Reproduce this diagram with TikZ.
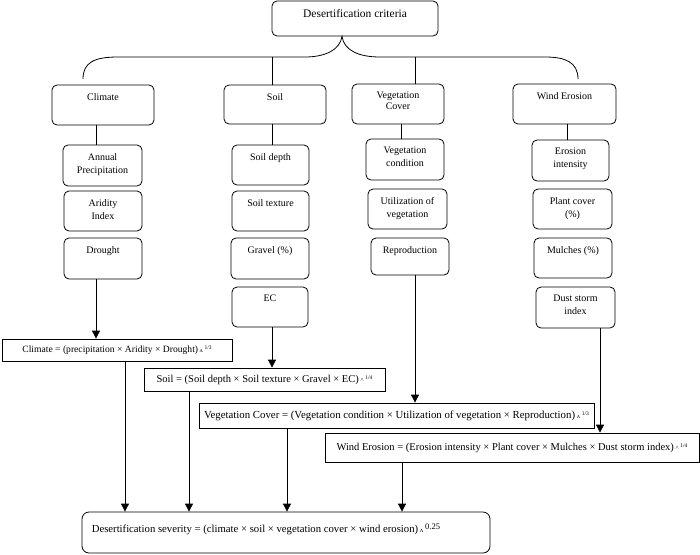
\documentclass[tikz,border=0pt]{standalone}
\usepackage{fontspec}
\setmainfont{Liberation Serif}
\usetikzlibrary{arrows.meta,calc}
\newcommand{\pwA}[1]{\,{\fontsize{6.5}{6.5}\selectfont ʌ}\,\raisebox{3pt}{\fontsize{5.5}{5.5}\selectfont #1}}
\newcommand{\pwB}[1]{\,{\fontsize{6.5}{6.5}\selectfont\textasciicircum}\,\raisebox{3pt}{\fontsize{5.5}{5.5}\selectfont #1}}
\tikzset{
  rbox/.style={draw, rounded corners=5pt, line width=0.8pt, inner sep=0pt},
  fbox/.style={draw, line width=0.8pt, inner sep=0pt, font=\fontsize{10.5}{12}\selectfont},
  tl/.style={anchor=north, align=center, yshift=-8.5pt, inner sep=0pt, font=\fontsize{10}{13}\selectfont},
  conn/.style={line width=0.8pt},
  arr/.style={line width=0.8pt, -{Triangle[width=8pt,length=8pt]}}
}
\newcommand{\rb}[6]{\node[rbox, minimum width=#4pt, minimum height=#5pt, label={[tl]north:{#6}}] (#1) at (#2,#3) {};}
\begin{document}
\begin{tikzpicture}[x=1pt,y=-1pt]
\useasboundingbox (0,0) rectangle (700,554);
% top
\node[rbox, minimum width=166pt, minimum height=35pt, label={[tl, yshift=-0.5pt, font=\fontsize{11.5}{13}\selectfont]north:{Desertification criteria}}] (top) at (355,18.5) {};
% categories
\rb{clim}{103}{105}{102}{40}{Climate}
\rb{soil}{275}{104.5}{102}{39}{Soil}
\node[rbox, minimum width=92pt, minimum height=40pt, label={[tl, font=\fontsize{10}{11}\selectfont]north:{Vegetation\\Cover}}] (veg) at (398,104) {};
\rb{wind}{564.5}{104}{103}{40}{Wind Erosion}
% climate sub
\rb{ap}{102.5}{165.5}{79}{41}{Annual\\Precipitation}
\rb{ai}{103}{211}{78}{40}{Aridity\\Index}
\rb{dr}{103}{258.5}{78}{41}{Drought}
% soil sub
\rb{sd}{270.5}{165}{77}{40}{Soil depth}
\rb{st}{270.5}{211}{77}{40}{Soil texture}
\rb{gr}{270}{258.5}{78}{41}{Gravel (\%)}
\rb{ec}{270}{307}{76}{40}{EC}
% veg sub
\rb{vc}{405}{159.5}{78}{41}{Vegetation\\condition}
\rb{ut}{407.5}{209}{79}{40}{Utilization of\\vegetation}
\rb{re}{410}{256.5}{78}{37}{Reproduction}
% wind sub
\rb{ei}{570.5}{160.5}{77}{41}{Erosion\\intensity}
\rb{pc}{572.5}{209}{79}{40}{Plant cover\\(\%)}
\rb{mu}{573}{258}{78}{40}{Mulches (\%)}
\rb{du}{575.5}{307.5}{79}{41}{Dust storm\\index}
% formulas
\node[fbox, font=\fontsize{9.6}{12}\selectfont, minimum width=230pt, minimum height=22pt] (cf) at (117,350) {Climate = (precipitation × Aridity × Drought)\pwA{1/3}};
\node[fbox, minimum width=241pt, minimum height=23pt] (sf) at (264.5,379.5) {Soil = (Soil depth × Soil texture × Gravel × EC)\pwB{1/4}};
\node[fbox, font=\fontsize{10.8}{12}\selectfont, minimum width=395pt, minimum height=25pt] (vf) at (396.5,415.5) {Vegetation Cover = (Vegetation condition × Utilization of vegetation × Reproduction)\pwA{1/3}};
\node[fbox, minimum width=374pt, minimum height=29pt] (wf) at (512,447.5) {Wind Erosion = (Erosion intensity × Plant cover × Mulches × Dust storm index)\pwB{1/4}};
\node[rbox, rounded corners=7pt, minimum width=408pt, minimum height=41pt,
  label={[anchor=west, xshift=10pt, yshift=3pt, inner sep=0pt, font=\fontsize{10.7}{12}\selectfont]west:{Desertification severity = (climate × soil × vegetation cover × wind erosion)\,{\fontsize{7}{7}\selectfont ʌ}\,\raisebox{3pt}{\fontsize{8.5}{8.5}\selectfont 0.25}}}] (fin) at (286,532.5) {};
% brace
\coordinate (tip) at ($(top.south)+(-13,0)$);
\coordinate (bl) at (83,79);
\coordinate (br) at (578,79);
\coordinate (b2) at (272,57);
\coordinate (b3) at (415,57);
\draw[conn] (bl) .. controls (83,62) and (95,57) .. (118,57) -- (305,57)
  .. controls (325,57) and (340,50) .. (tip)
  .. controls (344,50) and (358,57) .. (380,57) -- (545,57)
  .. controls (565,57) and (578,62) .. (br);
\draw[conn] (b2) -- (b2 |- soil.north);
\draw[conn] (b3) -- (b3 |- veg.north);
% category to first sub
\draw[conn] ([xshift=-6pt]ap.north) -- ([xshift=-6pt]ap.north |- clim.south);
\draw[conn] ([xshift=1.5pt]sd.north) -- ([xshift=1.5pt]sd.north |- soil.south);
\draw[conn] ([xshift=-4pt]vc.north) -- ([xshift=-4pt]vc.north |- veg.south);
\draw[conn] ([xshift=-3.5pt]ei.north) -- ([xshift=-3.5pt]ei.north |- wind.south);
% arrows into formulas
\draw[arr] ([xshift=-7pt]dr.south) -- ([xshift=-7pt]dr.south |- cf.north);
\draw[arr] ([xshift=2pt]ec.south) -- ([xshift=2pt]ec.south |- sf.north);
\draw[arr] ([xshift=5pt]re.south) -- ([xshift=5pt]re.south |- vf.north);
\draw[arr] ([xshift=24.5pt]du.south) -- ([xshift=24.5pt]du.south |- wf.north);
% arrows into final
\coordinate (x1) at (125,0);
\coordinate (x2) at (189,0);
\coordinate (x3) at (287,0);
\coordinate (x4) at (402,0);
\draw[arr] (x1 |- cf.south) -- (x1 |- fin.north);
\draw[arr] (x2 |- sf.south) -- (x2 |- fin.north);
\draw[arr] (x3 |- vf.south) -- (x3 |- fin.north);
\draw[arr] (x4 |- wf.south) -- (x4 |- fin.north);
\end{tikzpicture}
\end{document}
